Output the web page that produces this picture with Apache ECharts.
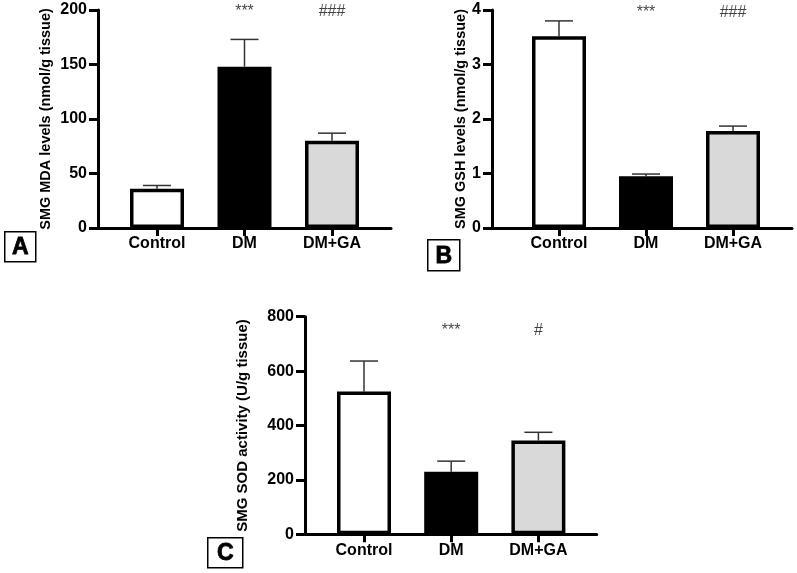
<!DOCTYPE html>
<html>
<head>
<meta charset="utf-8">
<script src="https://cdn.jsdelivr.net/npm/echarts@6/dist/echarts.min.js"></script>
<style>
html,body{margin:0;padding:0;background:#fff;}
#chart{width:797px;height:573px;}
</style>
</head>
<body>
<div id="chart"></div>
<script>
// ---- data ----
const categories = ['Control', 'DM', 'DM+GA'];

const mdaMean  = [36, 148, 80];
const mdaUpper = [39, 173, 87];
const mdaTicks = [0, 50, 100, 150, 200];
const mdaSig   = ['', '***', '###'];

const gshMean  = [3.52, 0.95, 1.78];
const gshUpper = [3.80, 0.99, 1.87];
const gshTicks = [0, 1, 2, 3, 4];
const gshSig   = ['', '***', '###'];

const sodMean  = [525, 230, 345];
const sodUpper = [637, 269, 375];
const sodTicks = [0, 200, 400, 600, 800];
const sodSig   = ['', '***', '#'];

const titles = ['SMG MDA levels (nmol/g tissue)', 'SMG GSH levels (nmol/g tissue)', 'SMG SOD activity (U/g tissue)'];
const panelLetters = ['A', 'B', 'C'];

// ---- styles / layout ----
const FONT = "'Liberation Sans', Arial, sans-serif";
const barFills = ['#ffffff', '#000000', '#d9d9d9'];

const panels = [
  { mean: mdaMean, upper: mdaUpper, ticks: mdaTicks, sig: mdaSig, title: titles[0],
    frame: { left: 98, top: 10, width: 293, height: 218 },
    bars:  { left: 113.25, top: 10, width: 262.5, height: 218 },
    nameGap: 45, nameSize: 14.5, sigOffset: 2 },
  { mean: gshMean, upper: gshUpper, ticks: gshTicks, sig: gshSig, title: titles[1],
    frame: { left: 492, top: 10, width: 300, height: 218 },
    bars:  { left: 515.5, top: 10, width: 261, height: 218 },
    nameGap: 20, nameSize: 14.5, sigOffset: 3 },
  { mean: sodMean, upper: sodUpper, ticks: sodTicks, sig: sodSig, title: titles[2],
    frame: { left: 305, top: 316.7, width: 291.7, height: 217.6 },
    bars:  { left: 320.4, top: 316.7, width: 261.6, height: 217.6 },
    nameGap: 55, nameSize: 15, sigOffset: 14 }
];

const letterBoxes = [
  { x: 4, y: 231, w: 31, h: 30 },
  { x: 427, y: 239, w: 32, h: 31 },
  { x: 207, y: 537, w: 35, h: 30 }
];

const grid = [], xAxis = [], yAxis = [], series = [];

panels.forEach((p, k) => {
  const yMin = p.ticks[0], yMax = p.ticks[p.ticks.length - 1];
  const interval = p.ticks[1] - p.ticks[0];
  const gF = grid.length, gB = gF + 1;
  grid.push(Object.assign({ containLabel: false }, p.frame));
  grid.push(Object.assign({ containLabel: false }, p.bars));

  // frame axes (visible y axis + baseline)
  xAxis.push({ gridIndex: gF, type: 'value', min: 0, max: 1,
    axisLine: { show: true, onZero: false, lineStyle: { color: '#000', width: 3 } },
    axisTick: { show: false }, axisLabel: { show: false }, splitLine: { show: false } });
  yAxis.push({ gridIndex: gF, type: 'value', min: yMin, max: yMax, interval: interval,
    name: p.title, nameLocation: 'middle', nameGap: p.nameGap,
    nameTextStyle: { fontFamily: FONT, fontSize: p.nameSize, fontWeight: 'bold', color: '#000' },
    axisLine: { show: true, lineStyle: { color: '#000', width: 3 } },
    axisTick: { show: true, length: 9, lineStyle: { color: '#000', width: 3 } },
    axisLabel: { fontFamily: FONT, fontSize: 16, fontWeight: 'bold', color: '#000', margin: 11 },
    splitLine: { show: false } });

  // bar axes
  xAxis.push({ gridIndex: gB, type: 'category', data: categories,
    axisLine: { show: false },
    axisTick: { show: true, alignWithLabel: true, length: 8, lineStyle: { color: '#000', width: 3 } },
    axisLabel: { fontFamily: FONT, fontSize: 16, fontWeight: 'bold', color: '#000', margin: 8 } });
  yAxis.push({ gridIndex: gB, type: 'value', min: yMin, max: yMax, show: false });

  const xi = xAxis.length - 1, yi = yAxis.length - 1;

  series.push({
    type: 'bar', xAxisIndex: xi, yAxisIndex: yi, barWidth: 54,
    data: p.mean.map((v, i) => ({ value: v, itemStyle: { color: barFills[i] } })),
    itemStyle: { borderColor: '#000', borderWidth: 3.5 },
    z: 3, silent: true
  });

  series.push({
    type: 'custom', xAxisIndex: xi, yAxisIndex: yi, z: 2, silent: true,
    data: p.mean.map((v, i) => [i, v, p.upper[i]]),
    renderItem: (params, api) => {
      const base = api.coord([api.value(0), api.value(1)]);
      const top = api.coord([api.value(0), api.value(2)]);
      const half = 14;
      const style = { stroke: '#333', lineWidth: 1.5 };
      return { type: 'group', children: [
        { type: 'line', shape: { x1: base[0], y1: base[1], x2: top[0], y2: top[1] }, style: style },
        { type: 'line', shape: { x1: top[0] - half, y1: top[1], x2: top[0] + half, y2: top[1] }, style: style }
      ] };
    }
  });

  series.push({
    type: 'scatter', xAxisIndex: xi, yAxisIndex: yi, symbolSize: 0, silent: true,
    data: p.sig.map((s, i) => [i, yMax, s]),
    itemStyle: { color: 'transparent' },
    label: { show: true, position: 'inside', offset: [0, p.sigOffset],
      formatter: (q) => q.data[2], fontFamily: FONT, fontSize: 16, color: '#111' }
  });
});

const graphic = letterBoxes.map((b, i) => ({
  type: 'group', left: b.x, top: b.y,
  children: [
    { type: 'rect', shape: { x: 0, y: 0, width: b.w, height: b.h },
      style: { fill: '#fff', stroke: '#000', lineWidth: 1.5 } },
    { type: 'text', x: b.w / 2, y: b.h / 2 + 1,
      style: { text: panelLetters[i], fontFamily: FONT, fontWeight: 900, fontSize: 23,
        fill: '#000', stroke: '#000', lineWidth: 0.8, align: 'center', verticalAlign: 'middle' } }
  ]
}));

const chart = echarts.init(document.getElementById('chart'), null, { renderer: 'canvas' });
chart.setOption({
  animation: false,
  backgroundColor: '#fff',
  grid: grid, xAxis: xAxis, yAxis: yAxis, series: series, graphic: graphic
});
</script>
</body>
</html>
